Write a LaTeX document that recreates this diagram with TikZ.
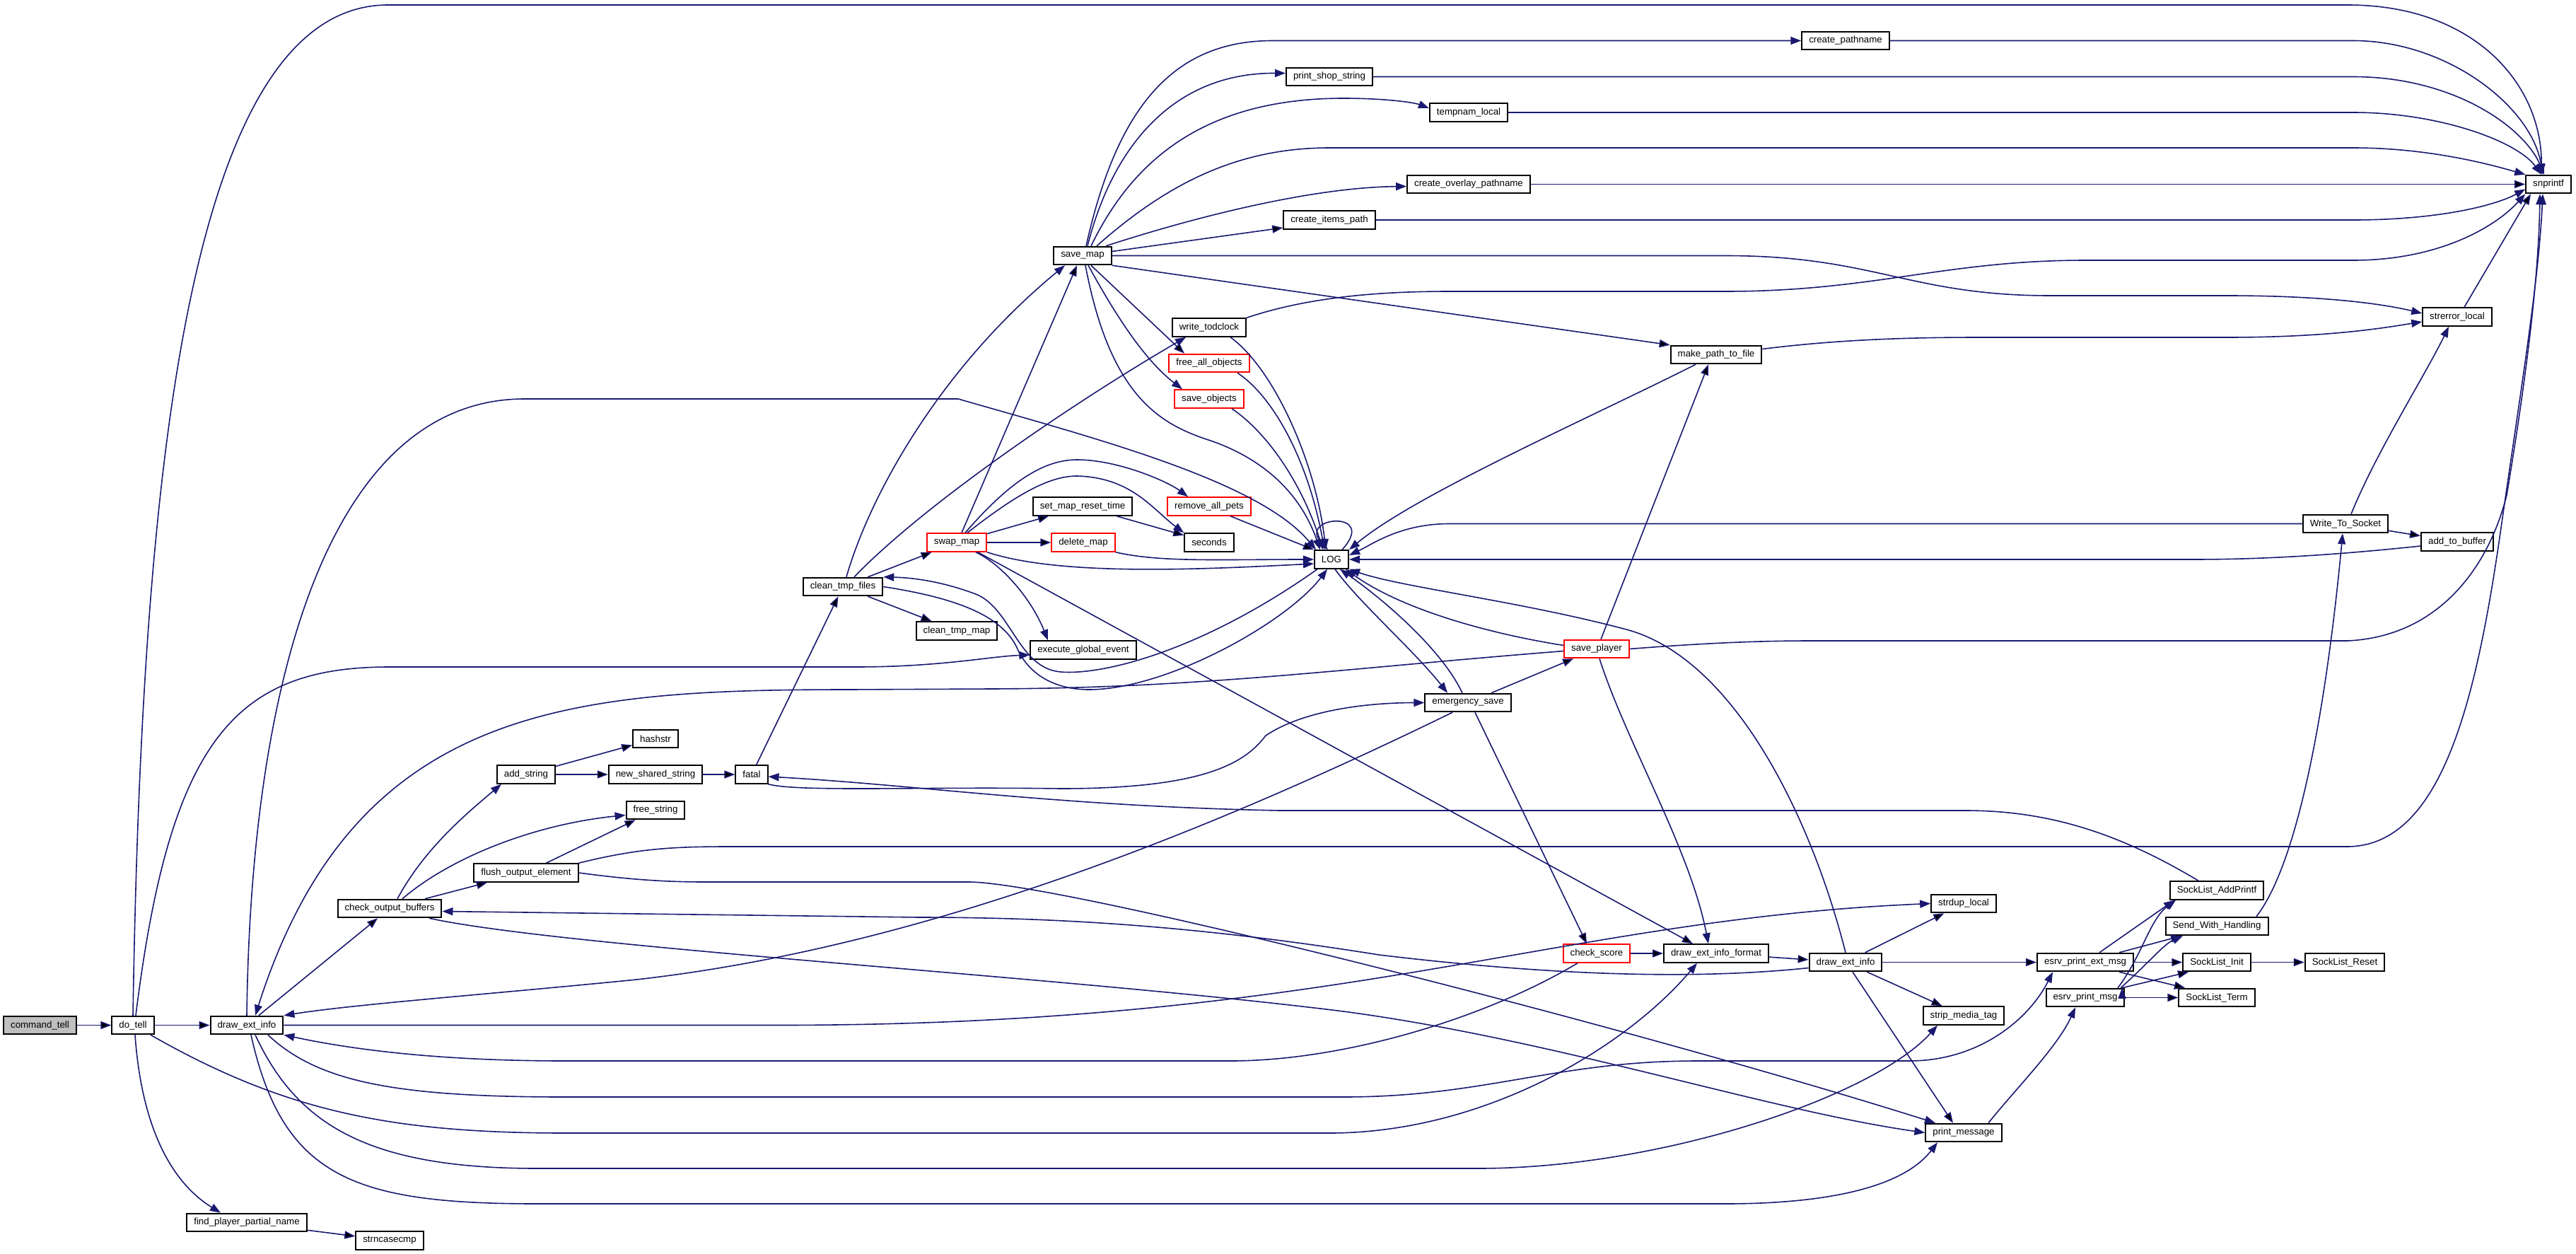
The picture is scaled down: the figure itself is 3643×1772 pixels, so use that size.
\documentclass[tikz,border=0pt]{standalone}
\usepackage{fontspec}
\setmainfont{Liberation Sans}
\usetikzlibrary{arrows.meta}
\definecolor{edgeblue}{RGB}{25,25,112}
\definecolor{nodegray}{RGB}{191,191,191}

\begin{document}
\begin{tikzpicture}[x=1pt,y=-1pt]
\tikzstyle{fn}=[rectangle, draw=black, fill=white, line width=2pt, minimum height=25.5pt, inner xsep=10pt, inner ysep=0pt, font=\fontsize{13.3pt}{15pt}\selectfont]
\tikzstyle{truncfn}=[fn, draw=red]
\tikzstyle{rootfn}=[fn, fill=nodegray]
\tikzstyle{connect}=[-{Triangle[length=15pt,width=11pt]}, line width=1.6pt, draw=edgeblue]
\useasboundingbox (0,0) rectangle (3643,1772);
  \node[rootfn] (cmdtell) at (56.5,1449.5) {command\_tell};
  \node[fn] (dotell) at (188,1449.5) {do\_tell};
  \node[fn] (deiL) at (349,1449.5) {draw\_ext\_info};
  \node[fn] (fppn) at (349,1728.5) {find\_player\_partial\_name};
  \node[fn] (strn) at (551,1754) {strncasecmp};
  \node[fn] (cob) at (551,1284.5) {check\_output\_buffers};
  \node[fn] (foe) at (744,1234) {flush\_output\_element};
  \node[fn] (addstr) at (744,1095) {add\_string};
  \node[fn] (hashstr) at (927,1044.5) {hashstr};
  \node[fn] (nss) at (927,1095) {new\_shared\_string};
  \node[fn] (freestr) at (927,1145.5) {free\_string};
  \node[fn] (fatal) at (1063,1095) {fatal};
  \node[fn] (ctf) at (1192,829.5) {clean\_tmp\_files};
  \node[fn] (ctm) at (1353,892) {clean\_tmp\_map};
  \node[truncfn] (swapmap) at (1353,767) {swap\_map};
  \node[fn] (ege) at (1532,919) {execute\_global\_event};
  \node[fn] (savemap) at (1531,361.5) {save\_map};
  \node[fn] (smrt) at (1531,716) {set\_map\_reset\_time};
  \node[truncfn] (delmap) at (1532,767) {delete\_map};
  \node[fn] (wtc) at (1710,463) {write\_todclock};
  \node[truncfn] (fao) at (1710,513.5) {free\_all\_objects};
  \node[truncfn] (saveobj) at (1710,564) {save\_objects};
  \node[truncfn] (rap) at (1710,716) {remove\_all\_pets};
  \node[fn] (seconds) at (1710,767) {seconds};
  \node[fn] (log) at (1883,791) {LOG};
  \node[fn] (pss) at (1880,108.5) {print\_shop\_string};
  \node[fn] (cip) at (1880,311) {create\_items\_path};
  \node[fn] (tmpl) at (2077,159) {tempnam\_local};
  \node[fn] (cop) at (2077,260.5) {create\_overlay\_pathname};
  \node[fn] (es) at (2076,993.5) {emergency\_save};
  \node[truncfn] (saveplayer) at (2258,917.5) {save\_player};
  \node[truncfn] (cscore) at (2258,1348) {check\_score};
  \node[fn] (mptf) at (2427,501.5) {make\_path\_to\_file};
  \node[fn] (deif) at (2427,1348) {draw\_ext\_info\_format};
  \node[fn] (cpn) at (2610,57.5) {create\_pathname};
  \node[fn] (deiR) at (2610,1360.5) {draw\_ext\_info};
  \node[fn] (strdup) at (2777,1277.5) {strdup\_local};
  \node[fn] (smt) at (2777,1436) {strip\_media\_tag};
  \node[fn] (pm) at (2777,1601.5) {print\_message};
  \node[fn] (epem) at (2949,1360.5) {esrv\_print\_ext\_msg};
  \node[fn] (epm) at (2949,1410.5) {esrv\_print\_msg};
  \node[fn] (slap) at (3135,1259) {SockList\_AddPrintf};
  \node[fn] (swh) at (3135,1309.5) {Send\_With\_Handling};
  \node[fn] (sli) at (3135,1360.5) {SockList\_Init};
  \node[fn] (slt) at (3135,1410.5) {SockList\_Term};
  \node[fn] (slr) at (3316,1360.5) {SockList\_Reset};
  \node[fn] (w2s) at (3317,740.5) {Write\_To\_Socket};
  \node[fn] (atb) at (3475,766) {add\_to\_buffer};
  \node[fn] (strerr) at (3475,448) {strerror\_local};
  \node[fn] (snprintf) at (3604,260.5) {snprintf};
\path[connect] (cmdtell) edge (dotell)
           (dotell) edge (deiL)
           (deiL) edge (cob)
           ([xshift=50pt]cob.north) edge ([xshift=-55pt]foe.south)
           (foe) edge (freestr)
           (addstr) edge (hashstr)
           (addstr) edge (nss)
           (nss) edge (fatal)
           (fatal) edge (ctf)
           (ctf) edge (swapmap)
           (ctf) edge (ctm)
           (swapmap) edge (smrt)
           (swapmap) edge (delmap)
           (smrt) edge (seconds)
           ([xshift=7pt]swapmap.north) edge ([xshift=-8pt]savemap.south)
           ([xshift=30pt]swapmap.south) edge ([xshift=-33pt]deif.north)
           ([yshift=6pt]savemap.east) edge ([yshift=-11pt]cip.west)
           (savemap.south east) edge (mptf.north west)
           ([xshift=12pt]savemap.south) edge ([xshift=-35pt]fao.north)
           (cop) edge (snprintf)
           ([xshift=30pt]rap.south) edge (log.north west)
           ([xshift=10pt]strerr.north) edge ([xshift=-25pt]snprintf.south)
           (w2s) edge (atb)
           (es) edge (saveplayer)
           ([xshift=10pt]es.south) edge ([xshift=-14pt]cscore.north)
           ([xshift=6pt]saveplayer.north) edge ([xshift=-11pt]mptf.south)
           (cscore) edge (deif)
           (deif) edge (deiR)
           (deiR) edge (strdup)
           (deiR) edge (epem)
           (deiR) edge (smt)
           ([xshift=10pt]deiR.south) edge ([xshift=-15pt]pm.north)
           ([xshift=20pt]epem.north) edge ([xshift=-60pt]slap.south)
           ([xshift=48pt]epem.north) edge ([xshift=-50pt]swh.south)
           (epem) edge (sli)
           ([xshift=48pt]epem.south) edge ([xshift=-45pt]slt.north)
           ([xshift=52pt]epm.north) edge ([xshift=-40pt]sli.south)
           (epm) edge (slt)
           (sli) edge (slr)
           (fppn) edge (strn)
           ;
% do_tell
\draw[connect] (dotell.north) .. controls (200,700) and (260,7) .. (549,7) -- (3320,7) .. controls (3500,7) and (3595,120) .. ([xshift=-10pt]snprintf.north);
\draw[connect] ([xshift=4pt]dotell.north) .. controls (240,1050) and (330,943) .. (550,943) -- (1210,943) .. controls (1330,943) and (1400,928) .. ([yshift=-7pt]ege.west);
\draw[connect] ([xshift=3pt]dotell.south) .. controls (200,1590) and (240,1670) .. ([xshift=-37pt]fppn.north);
\draw[connect] ([xshift=25pt]dotell.south) .. controls (400,1570) and (550,1602) .. (800,1602) -- (1880,1602) .. controls (2100,1602) and (2300,1480) .. ([xshift=-27pt]deif.south);
% draw_ext_info
\draw[connect] (deiL.north) .. controls (355,950) and (470,564) .. (742,564) -- (1355,564) .. controls (1550,620) and (1780,680) .. ([xshift=-22pt]log.north);
\draw[connect] (deiL.east) -- (1100,1449.5) .. controls (1900,1449.5) and (2200,1300) .. (strdup.west);
\draw[connect] ([xshift=30pt]deiL.south) .. controls (450,1530) and (560,1551) .. (800,1551) -- (1900,1551) .. controls (2100,1551) and (2200,1500) .. (2400,1500) -- (2700,1500) .. controls (2800,1500) and (2870,1440) .. ([xshift=-46pt]epem.south);
\draw[connect] ([xshift=12pt]deiL.south) .. controls (420,1590) and (520,1652) .. (760,1652) -- (2090,1652) .. controls (2350,1652) and (2650,1550) .. ([xshift=-37pt]smt.south);
\draw[connect] ([xshift=6pt]deiL.south) .. controls (400,1665) and (500,1702) .. (760,1702) -- (2440,1702) .. controls (2580,1702) and (2690,1680) .. ([xshift=-37pt]pm.south);
% check_output_buffers, flush_output_element
\draw[connect] ([xshift=11pt]cob.north) .. controls (600,1200) and (660,1150) .. ([xshift=-35pt]addstr.south);
\draw[connect] ([xshift=18pt]cob.north) .. controls (640,1210) and (760,1165) .. ([yshift=-7pt]freestr.west);
\draw[connect] ([xshift=56pt]cob.south) .. controls (800,1340) and (1500,1380) .. (1900,1430) .. controls (2200,1470) and (2500,1570) .. (pm.west);
\draw[connect] (foe.north east) .. controls (900,1200) and (950,1197) .. (1030,1197) -- (3319,1197) .. controls (3450,1197) and (3500,1000) .. (3535,760) .. controls (3565,550) and (3590,400) .. ([xshift=-8pt]snprintf.south);
\draw[connect] (foe.east) .. controls (900,1245) and (950,1247) .. (1000,1247) -- (1370,1247) .. controls (1500,1247) and (2300,1450) .. ([xshift=-40pt]pm.north);
% fatal
\draw[connect] (fatal.south east) .. controls (1130,1120) and (1300,1112) .. (1500,1115) .. controls (1700,1115) and (1760,1080) .. (1790,1040) .. controls (1850,1000) and (1950,993.5) .. (es.west);
\draw[connect] ([xshift=-26pt]slap.north) .. controls (3000,1180) and (2900,1146) .. (2780,1146) -- (1810,1146) .. controls (1500,1140) and (1300,1110) .. ([yshift=-3pt]fatal.east);
% clean_tmp_files
\draw[connect] ([xshift=5pt]ctf.north) .. controls (1230,700) and (1330,520) .. ([xshift=-25pt]savemap.south);
\draw[connect] ([xshift=16pt]ctf.north) .. controls (1300,720) and (1500,580) .. ([xshift=-33pt]wtc.south);
\draw[connect] (ctf.east) .. controls (1350,845) and (1420,870) .. (1440,920) .. controls (1460,960) and (1500,975) .. (1540,975) .. controls (1650,975) and (1820,880) .. ([xshift=-6pt]log.south);
\draw[connect] ([xshift=-20pt]log.south) .. controls (1700,920) and (1560,955) .. (1500,950) .. controls (1440,945) and (1430,860) .. (1380,840) .. controls (1340,825) and (1300,817) .. (ctf.north east);
% swap_map
\draw[connect] (swapmap.south east) .. controls (1500,815) and (1700,805) .. ([yshift=-6pt]log.west);
\draw[connect] (delmap.south east) .. controls (1640,795) and (1720,791) .. (log.west);
\draw[connect] ([xshift=12pt]swapmap.north) .. controls (1420,690) and (1470,650) .. (1523,650) .. controls (1580,650) and (1650,680) .. ([xshift=-30pt]rap.north);
\draw[connect] ([xshift=15pt]swapmap.north) .. controls (1430,705) and (1480,673) .. (1523,673) .. controls (1600,675) and (1630,720) .. (seconds.north west);
\draw[connect] ([xshift=27pt]swapmap.south) .. controls (1420,800) and (1460,850) .. ([xshift=-50pt]ege.north);
% save_map
\draw[connect] ([xshift=5pt]savemap.north) .. controls (1580,150) and (1660,57.5) .. (1800,57.5) -- (cpn.west);
\draw[connect] ([xshift=7pt]savemap.north) .. controls (1570,220) and (1650,103) .. ([yshift=5pt]pss.west);
\draw[connect] ([xshift=12pt]savemap.north) .. controls (1600,230) and (1700,139) .. (1900,139) .. controls (1960,139) and (2000,145) .. ([yshift=6pt]tmpl.west);
\draw[connect] ([xshift=20pt]savemap.north) .. controls (1650,260) and (1750,209) .. (1880,209) -- (3328,209) .. controls (3440,209) and (3530,235) .. (snprintf.north west);
\draw[connect] ([xshift=33pt]savemap.north) .. controls (1680,310) and (1850,265) .. ([yshift=-3pt]cop.west);
\draw[connect] (savemap.east) -- (2440,361.5) .. controls (2650,361.5) and (2700,418) .. (2900,418) -- (3150,418) .. controls (3300,418) and (3380,432) .. ([yshift=5pt]strerr.west);
\draw[connect] ([xshift=4pt]savemap.south) .. controls (1570,560) and (1640,600) .. (1712,623) .. controls (1790,650) and (1840,700) .. ([xshift=-16pt]log.north);
\draw[connect] ([xshift=8pt]savemap.south) .. controls (1580,450) and (1620,510) .. ([xshift=-38pt]saveobj.north);
% write_todclock and friends
\draw[connect] ([xshift=30pt]wtc.south) .. controls (1800,520) and (1860,650) .. ([xshift=-8pt]log.north);
\draw[connect] (wtc.north east) .. controls (1850,420) and (1950,412) .. (2050,412) -- (2440,412) .. controls (2650,412) and (2750,368) .. (2950,368) -- (3328,368) .. controls (3450,368) and (3530,320) .. (snprintf.south west);
\draw[connect] ([xshift=40pt]fao.south) .. controls (1800,560) and (1850,650) .. ([xshift=-10pt]log.north);
\draw[connect] ([xshift=32pt]saveobj.south) .. controls (1790,610) and (1840,680) .. ([xshift=-12pt]log.north);
\draw[connect] ([xshift=15pt]log.north) .. controls (1950,720) and (1835,730) .. ([xshift=-5pt]log.north);
% LOG and emergency_save
\draw[connect] ([xshift=5pt]log.south) .. controls (1920,850) and (2000,920) .. ([xshift=-29pt]es.north);
\draw[connect] ([xshift=-8pt]es.north) .. controls (2040,920) and (1960,850) .. ([xshift=12pt]log.south);
\draw[connect] ([xshift=-22pt]es.south) .. controls (1700,1180) and (1300,1340) .. (900,1385) .. controls (700,1405) and (500,1420) .. (deiL.north east);
% save_player
\draw[connect] ([yshift=5pt]saveplayer.west) .. controls (2100,895) and (1980,860) .. ([xshift=20pt]log.south);
\draw[connect] (saveplayer.east) .. controls (2400,910) and (2480,906) .. (2560,906) -- (3320,906) .. controls (3450,900) and (3520,800) .. (3545,700) .. controls (3570,550) and (3590,400) .. ([xshift=-12pt]snprintf.south);
\draw[connect] ([yshift=-3pt]saveplayer.west) .. controls (1900,945) and (1700,973) .. (1400,974) -- (1200,975) .. controls (800,975) and (500,1000) .. ([xshift=12pt]deiL.north);
\draw[connect] ([xshift=4pt]saveplayer.south) .. controls (2300,1050) and (2390,1200) .. ([xshift=-11pt]deif.north);
% check_score
\draw[connect] ([xshift=-27pt]cscore.south) .. controls (2100,1440) and (1900,1500) .. (1740,1500) -- (800,1500) .. controls (600,1500) and (480,1480) .. (deiL.south east);
% make_path_to_file, Write_To_Socket
\draw[connect] ([xshift=-29pt]mptf.south) .. controls (2250,590) and (2000,700) .. (log.north east);
\draw[connect] ([yshift=8pt]mptf.east) .. controls (2600,480) and (2700,477) .. (2800,477) -- (3150,477) .. controls (3300,477) and (3380,462) .. ([yshift=-7pt]strerr.west);
\draw[connect] ([xshift=8pt]w2s.north) .. controls (3360,640) and (3430,530) .. ([xshift=-12pt]strerr.south);
\draw[connect] (w2s.west) -- (2050,740.5) .. controls (1980,740.5) and (1940,770) .. ([yshift=6pt]log.east);
\draw[connect] ([yshift=-6pt]atb.west) .. controls (3300,785) and (3200,791) .. (3100,791) -- (log.east);
\draw[connect] ([xshift=56pt]swh.north) .. controls (3250,1220) and (3290,1000) .. ([xshift=-4pt]w2s.south);
% into snprintf
\draw[connect] (cpn.east) -- (3328,57.5) .. controls (3460,57.5) and (3580,150) .. ([xshift=-8pt]snprintf.north);
\draw[connect] (pss.east) -- (3328,108.5) .. controls (3470,108.5) and (3570,180) .. ([xshift=-6pt]snprintf.north);
\draw[connect] (tmpl.east) -- (3328,159) .. controls (3450,159) and (3560,200) .. ([xshift=-10pt]snprintf.north);
\draw[connect] (cip.east) -- (3328,311) .. controls (3450,311) and (3530,290) .. ([yshift=-7pt]snprintf.west);
% right draw_ext_info
\draw[connect] (deiR.north) .. controls (2560,1150) and (2450,930) .. (2300,890) .. controls (2150,850) and (1980,830) .. (log.south east);
\draw[connect] ([yshift=-8pt]deiR.west) .. controls (2400,1385) and (2200,1380) .. (1950,1350) .. controls (1700,1310) and (1500,1297) .. (1300,1297) -- ([yshift=-4pt]cob.east);
% print_message, esrv_print_msg
\draw[connect] ([xshift=35pt]pm.north) .. controls (2850,1540) and (2910,1480) .. ([xshift=-14pt]epm.south);
\draw[connect] ([xshift=46pt]epm.north) .. controls (3030,1350) and (3040,1300) .. ([xshift=-58pt]slap.south);
\draw[connect] ([xshift=50pt]epm.north) .. controls (3040,1360) and (3060,1335) .. ([xshift=-48pt]swh.south);
\end{tikzpicture}
\end{document}
